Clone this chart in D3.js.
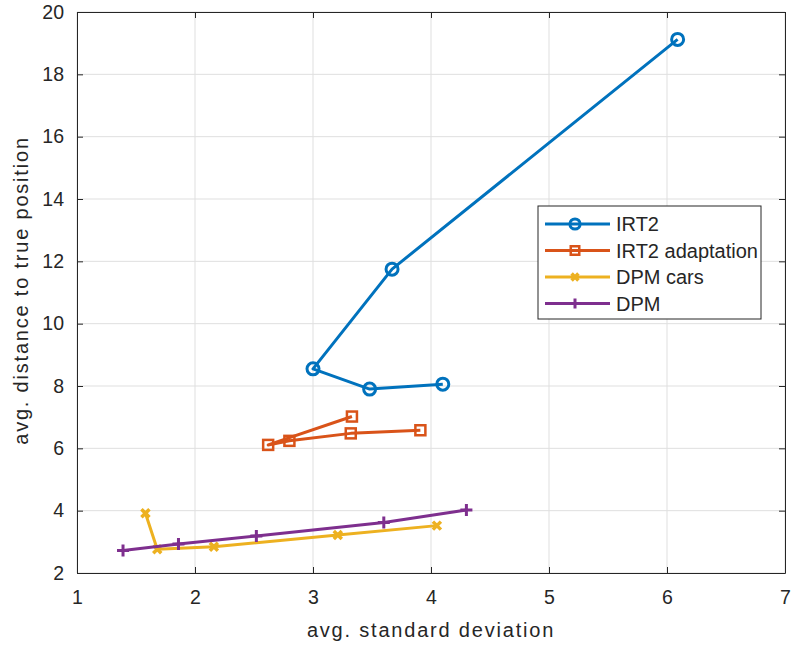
<!DOCTYPE html>
<html>
<head>
<meta charset="utf-8">
<script src="https://cdn.jsdelivr.net/npm/d3@7"></script>
<style>
  body { margin: 0; background: #fff; }
  text { font-family: "Liberation Sans", Arial, sans-serif; fill: #262626; }
</style>
</head>
<body>
<script>
// series values
var irt2X = [6.09, 3.67, 3.00, 3.48, 4.10],
    irt2Y = [19.12, 11.75, 8.55, 7.90, 8.06];
var adaptX = [3.33, 2.62, 2.80, 3.32, 3.91],
    adaptY = [7.02, 6.11, 6.24, 6.48, 6.58];
var carsX = [1.58, 1.68, 2.16, 3.21, 4.05],
    carsY = [3.92, 2.76, 2.84, 3.22, 3.52];
var dpmX = [1.39, 1.86, 2.52, 3.60, 4.30],
    dpmY = [2.72, 2.93, 3.19, 3.62, 4.02];

var seriesNames = ["IRT2", "IRT2 adaptation", "DPM cars", "DPM"];
var colors = ["#0072BD", "#D95319", "#EDB120", "#7E2F8E"];
var markers = ["circle", "square", "x", "plus"];
var xTicks = [1, 2, 3, 4, 5, 6, 7];
var yTicks = [2, 4, 6, 8, 10, 12, 14, 16, 18, 20];

var series = [[irt2X, irt2Y], [adaptX, adaptY], [carsX, carsY], [dpmX, dpmY]].map(function(s, i) {
  return {
    name: seriesNames[i], color: colors[i], marker: markers[i],
    points: s[0].map(function(x, j) { return [x, s[1][j]]; })
  };
});

var margin = {top: 12, right: 11, bottom: 73, left: 77},
    width = 796 - margin.left - margin.right,
    height = 646 - margin.top - margin.bottom;

var x = d3.scaleLinear().domain([1, 7]).range([0, width]);
var y = d3.scaleLinear().domain([2, 20]).range([height, 0]);

var svg = d3.select("body").append("svg")
    .attr("width", 796)
    .attr("height", 646)
  .append("g")
    .attr("transform", "translate(" + margin.left + "," + margin.top + ")");

// grid
svg.append("g").selectAll("line").data(xTicks).enter().append("line")
    .attr("x1", function(d) { return x(d); }).attr("x2", function(d) { return x(d); })
    .attr("y1", 0).attr("y2", height)
    .attr("stroke", "#dfdfdf").attr("stroke-width", 1);
svg.append("g").selectAll("line").data(yTicks).enter().append("line")
    .attr("y1", function(d) { return y(d); }).attr("y2", function(d) { return y(d); })
    .attr("x1", 0).attr("x2", width)
    .attr("stroke", "#dfdfdf").attr("stroke-width", 1);

// axes
var fmt = d3.format("d");
var xAxis = d3.axisBottom(x).tickValues(xTicks).tickFormat(fmt).tickSizeInner(-6).tickSizeOuter(0).tickPadding(17);
var yAxis = d3.axisLeft(y).tickValues(yTicks).tickFormat(fmt).tickSizeInner(-6).tickSizeOuter(0).tickPadding(13);
var xTop = d3.axisTop(x).tickValues(xTicks).tickSizeInner(-6).tickSizeOuter(0).tickFormat("");
var yRight = d3.axisRight(y).tickValues(yTicks).tickSizeInner(-6).tickSizeOuter(0).tickFormat("");

function styleAxis(g) {
  g.selectAll("path").attr("stroke", "#262626").attr("stroke-width", 1);
  g.selectAll("line").attr("stroke", "#262626");
  g.selectAll("text").style("font-size", "19.5px").attr("fill", "#262626")
    .style("font-family", "'Liberation Sans', Arial, sans-serif");
}

svg.append("g").attr("transform", "translate(0," + height + ")").call(xAxis).call(styleAxis);
svg.append("g").call(yAxis).call(styleAxis);
svg.append("g").call(xTop).call(styleAxis);
svg.append("g").attr("transform", "translate(" + width + ",0)").call(yRight).call(styleAxis);

// axis labels
svg.append("text")
    .attr("x", width / 2).attr("y", height + 64)
    .attr("text-anchor", "middle")
    .style("font-size", "20px")
    .style("letter-spacing", "1.8px")
    .text("avg. standard deviation");
svg.append("text")
    .attr("transform", "translate(-49," + (height / 2 - 2) + ") rotate(-90)")
    .attr("text-anchor", "middle")
    .style("font-size", "20px")
    .style("letter-spacing", "1.8px")
    .text("avg. distance to true position");

function drawMarker(g, type, color, k) {
  k = k || 1;
  if (type === "circle") {
    g.append("circle").attr("r", 6 * k).attr("fill", "none").attr("stroke", color).attr("stroke-width", 3);
  } else if (type === "square") {
    g.append("rect").attr("x", -5 * k).attr("y", -5 * k).attr("width", 10 * k).attr("height", 10 * k)
      .attr("fill", "none").attr("stroke", color).attr("stroke-width", 2.5);
  } else if (type === "x") {
    g.append("path").attr("d", "M-4,-4L4,4M-4,4L4,-4")
      .attr("transform", "scale(" + k + ")")
      .attr("stroke", color).attr("stroke-width", 3.5 / k).attr("fill", "none");
  } else {
    g.append("path").attr("d", "M-6,0L6,0M0,-6L0,6")
      .attr("transform", "scale(" + k + ")")
      .attr("stroke", color).attr("stroke-width", 3 / k).attr("fill", "none");
  }
}

var line = d3.line().x(function(d) { return x(d[0]); }).y(function(d) { return y(d[1]); });

series.forEach(function(s) {
  var g = svg.append("g");
  g.append("path").datum(s.points)
    .attr("d", line)
    .attr("fill", "none")
    .attr("stroke", s.color)
    .attr("stroke-width", 3)
    .attr("stroke-linejoin", "round");
  g.selectAll("g.m").data(s.points).enter().append("g")
    .attr("transform", function(d) { return "translate(" + x(d[0]) + "," + y(d[1]) + ")"; })
    .each(function() { drawMarker(d3.select(this), s.marker, s.color); });
});

// legend
var legend = svg.append("g").attr("transform", "translate(" + (538 - margin.left) + "," + (206 - margin.top) + ")");
legend.append("rect")
    .attr("width", 223).attr("height", 113)
    .attr("fill", "#fff").attr("stroke", "#262626").attr("stroke-width", 1);
series.forEach(function(s, i) {
  var row = legend.append("g").attr("transform", "translate(0," + (18 + i * 26.5) + ")");
  row.append("line").attr("x1", 7).attr("x2", 72).attr("y1", 0).attr("y2", 0)
    .attr("stroke", s.color).attr("stroke-width", 3);
  var m = row.append("g").attr("transform", "translate(37,0)");
  drawMarker(m, s.marker, s.color, 0.85);
  row.append("text").attr("x", 78).attr("y", 7)
    .style("font-size", "20px").text(s.name);
});
</script>
</body>
</html>
